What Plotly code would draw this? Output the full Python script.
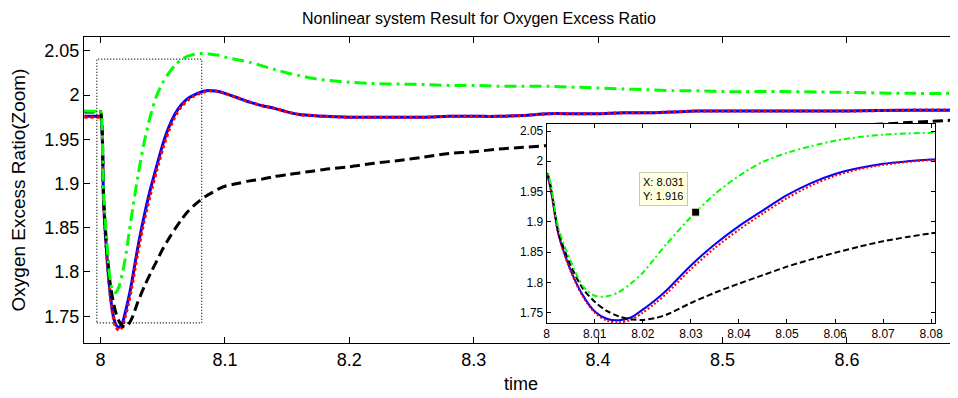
import plotly.graph_objects as go

# ---------------- data ----------------
time = [7.987, 7.999, 8.000, 8.0025, 8.005, 8.0075, 8.010, 8.0125, 8.015, 8.0175,
        8.020, 8.0225, 8.025, 8.030, 8.035, 8.040, 8.045, 8.050, 8.055, 8.060,
        8.065, 8.070, 8.075, 8.080, 8.085, 8.090, 8.095, 8.100, 8.110, 8.120,
        8.130, 8.140, 8.150, 8.160, 8.170, 8.180, 8.200, 8.220, 8.240, 8.260,
        8.280, 8.300, 8.320, 8.340, 8.360, 8.380, 8.400, 8.420, 8.440, 8.460,
        8.480, 8.500, 8.550, 8.600, 8.650, 8.690]

blue_ratio = [1.976, 1.976, 1.976, 1.878, 1.820, 1.779, 1.752, 1.740, 1.7375, 1.742,
              1.755, 1.770, 1.7875, 1.828, 1.863, 1.893, 1.919, 1.944, 1.964, 1.979,
              1.989, 1.996, 2.000, 2.003, 2.005, 2.005, 2.004, 2.002, 1.997, 1.992,
              1.988, 1.985, 1.981, 1.978, 1.977, 1.976, 1.975, 1.975, 1.975, 1.975,
              1.976, 1.976, 1.976, 1.977, 1.979, 1.979, 1.979, 1.980, 1.980, 1.981,
              1.982, 1.982, 1.982, 1.982, 1.983, 1.983]

red_ratio = [1.975, 1.975, 1.975, 1.876, 1.818, 1.777, 1.750, 1.737, 1.734, 1.738,
             1.750, 1.765, 1.782, 1.822, 1.857, 1.887, 1.914, 1.939, 1.960, 1.976,
             1.987, 1.994, 1.999, 2.002, 2.004, 2.005, 2.004, 2.002, 1.997, 1.992,
             1.988, 1.985, 1.981, 1.978, 1.977, 1.976, 1.975, 1.975, 1.975, 1.975,
             1.976, 1.976, 1.976, 1.977, 1.979, 1.979, 1.979, 1.980, 1.980, 1.981,
             1.982, 1.982, 1.982, 1.982, 1.983, 1.983]

black_ratio = [1.981, 1.981, 1.981, 1.882, 1.828, 1.790, 1.768, 1.753, 1.744, 1.739,
               1.738, 1.741, 1.747, 1.766, 1.783, 1.798, 1.812, 1.826, 1.838, 1.849,
               1.859, 1.868, 1.875, 1.881, 1.886, 1.890, 1.894, 1.897, 1.900, 1.903,
               1.905, 1.908, 1.910, 1.912, 1.914, 1.916, 1.919, 1.923, 1.926, 1.930,
               1.934, 1.936, 1.939, 1.941, 1.943, 1.945, 1.947, 1.949, 1.951, 1.953,
               1.955, 1.957, 1.961, 1.965, 1.969, 1.972]

green_ratio = [1.982, 1.982, 1.983, 1.888, 1.835, 1.794, 1.778, 1.777, 1.784, 1.798,
               1.816, 1.840, 1.864, 1.908, 1.946, 1.976, 1.999, 2.014, 2.025, 2.034,
               2.040, 2.044, 2.046, 2.047, 2.047, 2.046, 2.045, 2.043, 2.040, 2.037,
               2.033, 2.029, 2.025, 2.022, 2.019, 2.017, 2.0145, 2.013, 2.0125, 2.012,
               2.011, 2.011, 2.010, 2.010, 2.010, 2.009, 2.008, 2.007, 2.006, 2.005,
               2.005, 2.004, 2.004, 2.003, 2.002, 2.002]

main_x_ticks = [8.0, 8.1, 8.2, 8.3, 8.4, 8.5, 8.6]
main_x_labels = ["8", "8.1", "8.2", "8.3", "8.4", "8.5", "8.6"]
y_ticks = [1.75, 1.80, 1.85, 1.90, 1.95, 2.00, 2.05]
y_labels = ["1.75", "1.8", "1.85", "1.9", "1.95", "2", "2.05"]
inset_x_ticks = [8.00, 8.01, 8.02, 8.03, 8.04, 8.05, 8.06, 8.07, 8.08]
inset_x_labels = ["8", "8.01", "8.02", "8.03", "8.04", "8.05", "8.06", "8.07", "8.08"]

zoom_box_time = [7.997, 8.0813]
zoom_box_ratio = [1.7424, 2.0406]
datatip_time = 8.031
datatip_ratio = 1.916

FONT = "Liberation Sans, Arial, sans-serif"

fig = go.Figure()

series = [
    (blue_ratio, "#0000FF", "solid", "solid"),
    (red_ratio, "#FF0000", "3px,3px", "2px,2px"),
    (black_ratio, "#000000", "10px,5px", "6px,3px"),
    (green_ratio, "#00FF00", "12px,5px,3px,5px", "6px,3px,2px,3px"),
]

# main axes
for vals, col, dmain, dins in series:
    fig.add_trace(go.Scatter(x=time, y=vals, mode="lines", xaxis="x", yaxis="y",
                             line=dict(color=col, width=3, dash=dmain, shape="spline", smoothing=0.8),
                             hoverinfo="skip", showlegend=False))
# inset axes
for vals, col, dmain, dins in series:
    fig.add_trace(go.Scatter(x=time, y=vals, mode="lines", xaxis="x2", yaxis="y2",
                             line=dict(color=col, width=2, dash=dins, shape="spline", smoothing=0.8),
                             hoverinfo="skip", showlegend=False))

# data tip marker
fig.add_trace(go.Scatter(x=[datatip_time], y=[datatip_ratio], mode="markers", xaxis="x2", yaxis="y2",
                         marker=dict(symbol="square", size=8, color="black",
                                     line=dict(color="#FFFFCC", width=1)),
                         hoverinfo="skip", showlegend=False))

fig.add_annotation(xref="x2", yref="y2", x=8.0243, y=1.9542,
                   text="X: %.3f<br>Y: %.3f" % (datatip_time, datatip_ratio),
                   showarrow=False, align="left", bgcolor="#FFFFE1",
                   bordercolor="#C8C8B4", borderwidth=1, borderpad=3,
                   font=dict(family=FONT, size=11, color="black"))

fig.add_shape(type="rect", xref="x", yref="y",
              x0=zoom_box_time[0], x1=zoom_box_time[1],
              y0=zoom_box_ratio[0], y1=zoom_box_ratio[1],
              line=dict(color="black", width=1.2, dash="1px,2px"))

axis_common = dict(showgrid=False, zeroline=False, showline=True, linecolor="black",
                   linewidth=1, ticks="inside", tickcolor="black", automargin=False)

# page body has an 8px margin, so the figure is sized/offset to compensate
fig.update_layout(
    width=950, height=390,
    margin=dict(l=76, r=0, t=29, b=55, autoexpand=False),
    paper_bgcolor="white", plot_bgcolor="white",
    font=dict(family=FONT, color="black"),
    showlegend=False,
    title=dict(text="Nonlinear system Result for Oxygen Excess Ratio",
               x=471 / 950, xref="container", xanchor="center",
               y=1 - 10 / 390, yref="container", yanchor="middle",
               font=dict(family=FONT, size=16, color="black"), automargin=False),
    xaxis=dict(domain=[0, 1], range=[7.9867, 8.6893], tickvals=main_x_ticks,
               ticktext=main_x_labels, ticklen=6, mirror="ticks",
               tickfont=dict(size=18),
               title=dict(text="time", font=dict(size=18), standoff=8),
               **axis_common),
    yaxis=dict(domain=[0, 1], range=[1.7197, 2.0657], tickvals=y_ticks,
               ticktext=y_labels, ticklen=6, mirror=False,
               tickfont=dict(size=18),
               title=dict(text="Oxygen Excess Ratio(Zoom)", font=dict(size=19), standoff=14),
               **axis_common),
    xaxis2=dict(domain=[0.5294, 0.9737], anchor="y2", range=[8.0, 8.0808],
                tickvals=inset_x_ticks, ticktext=inset_x_labels, ticklen=4,
                mirror="ticks", tickfont=dict(size=12), **axis_common),
    yaxis2=dict(domain=[0.0654, 0.7157], anchor="x2", range=[1.733, 2.0616],
                tickvals=y_ticks, ticktext=y_labels, ticklen=4,
                mirror="ticks", tickfont=dict(size=12), **axis_common),
)

fig.write_html("out.html")
